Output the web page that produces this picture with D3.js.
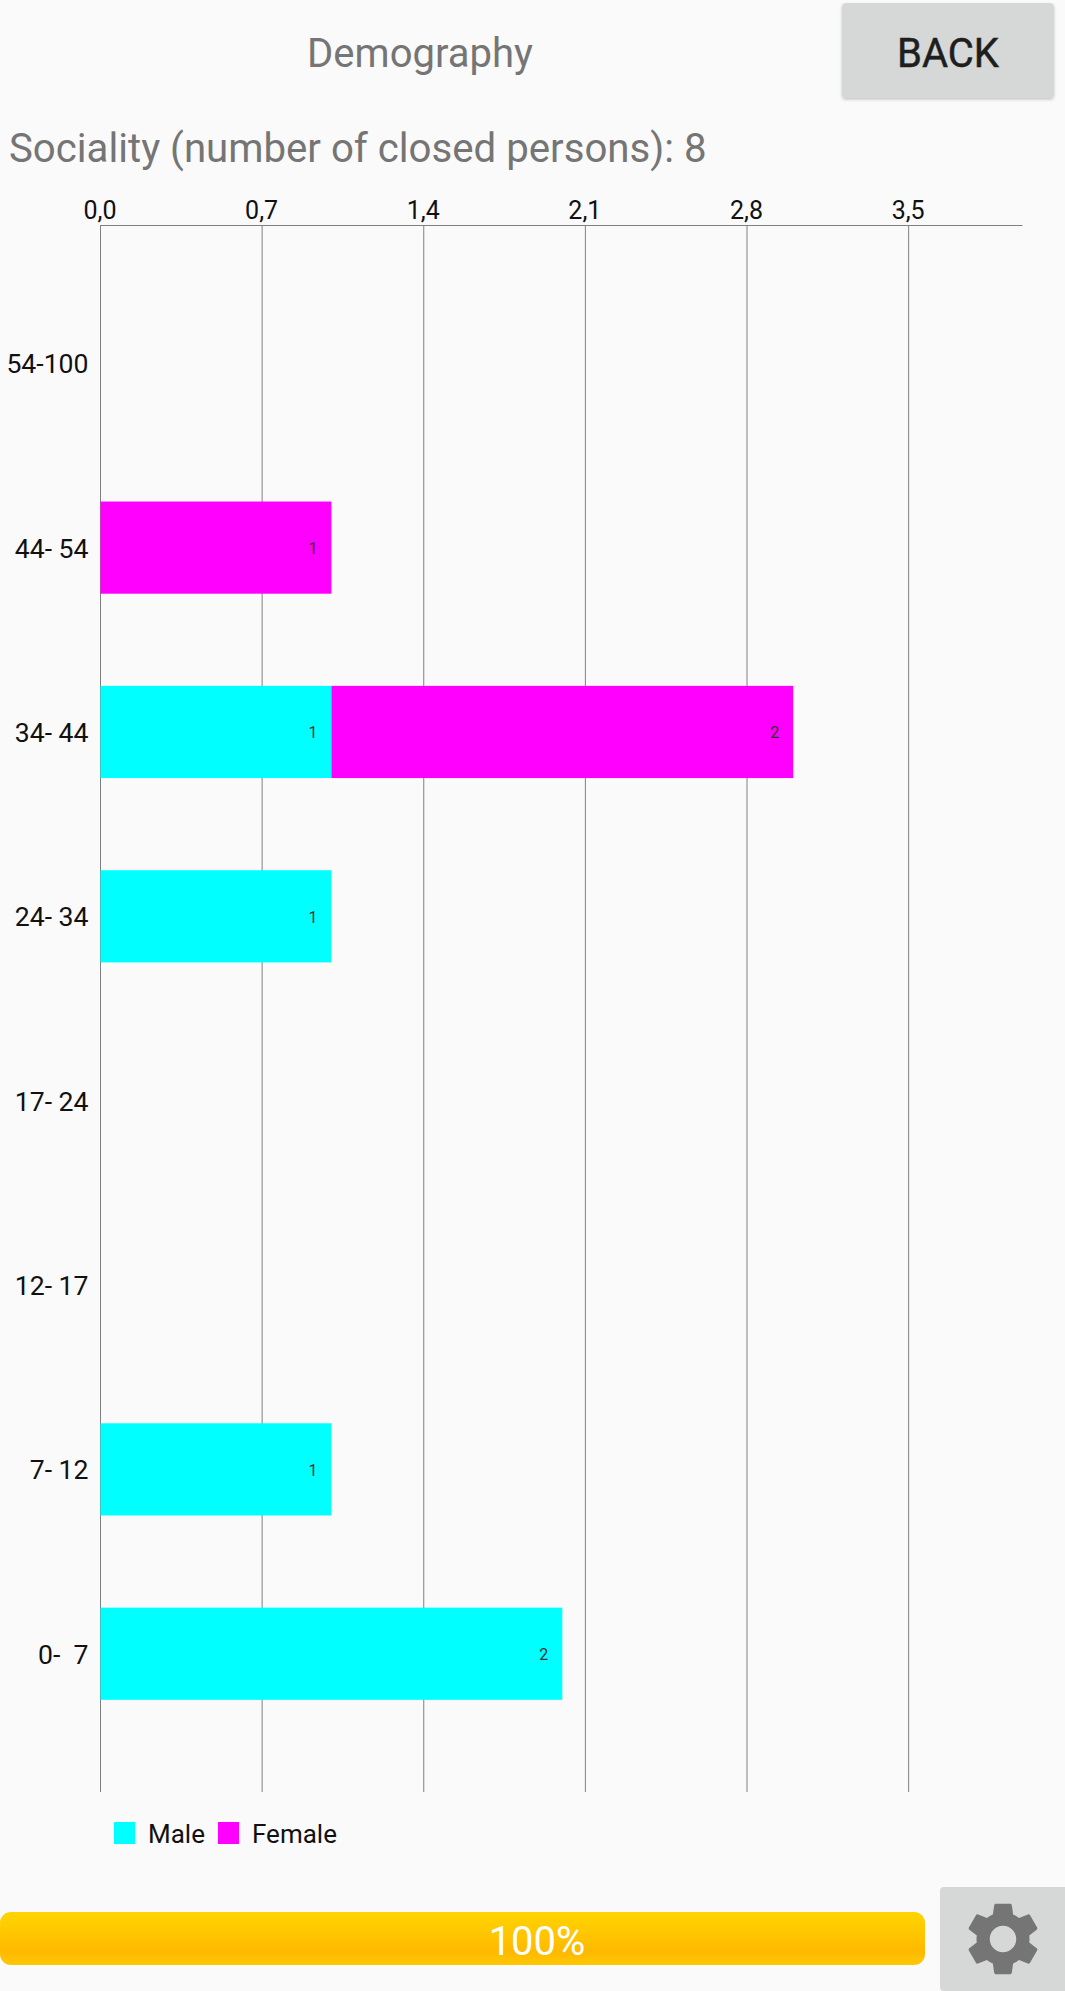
<!DOCTYPE html>
<html>
<head>
<meta charset="utf-8">
<script src="https://cdn.jsdelivr.net/npm/d3@7"></script>
<style>
html,body{margin:0;padding:0;background:#fafafa;overflow:hidden}
svg{display:block;font-family:Roboto,sans-serif}
</style>
</head>
<body>
<svg id="c" width="1065" height="1991"></svg>
<script>
const categories = ["54-100","44- 54","34- 44","24- 34","17- 24","12- 17","7- 12","0-  7"];
const maleValues = [0,0,1,1,0,0,1,2];
const femaleValues = [0,1,2,0,0,0,0,0];
const seriesNames = ["Male","Female"];
const seriesColors = ["#00ffff","#ff00ff"];
const xTicks = [0,0.7,1.4,2.1,2.8,3.5];
const pageTitle = "Demography";
const subtitle = "Sociality (number of closed persons): 8";
const backLabel = "BACK";
const progressLabel = "100%";
const gearPath = "M19.14,12.94c0.04-0.3,0.06-0.61,0.06-0.94c0-0.32-0.02-0.64-0.07-0.94l2.03-1.58c0.18-0.14,0.23-0.41,0.12-0.61l-1.92-3.32c-0.12-0.22-0.37-0.29-0.59-0.22l-2.39,0.96c-0.5-0.38-1.03-0.7-1.62-0.94L14.4,2.81c-0.04-0.24-0.24-0.41-0.48-0.41h-3.84c-0.24,0-0.43,0.17-0.47,0.41L9.25,5.35C8.66,5.59,8.12,5.92,7.63,6.29L5.24,5.33c-0.22-0.08-0.47,0-0.59,0.22L2.74,8.87C2.62,9.08,2.66,9.34,2.86,9.48l2.03,1.58C4.84,11.36,4.8,11.69,4.8,12s0.02,0.64,0.07,0.94l-2.03,1.58c-0.18,0.14-0.23,0.41-0.12,0.61l1.92,3.32c0.12,0.22,0.37,0.29,0.59,0.22l2.39-0.96c0.5,0.38,1.03,0.7,1.62,0.94l0.36,2.54c0.05,0.24,0.24,0.41,0.48,0.41h3.84c0.24,0,0.44-0.17,0.47-0.41l0.36-2.54c0.59-0.24,1.13-0.56,1.62-0.94l2.39,0.96c0.22,0.08,0.47,0,0.59-0.22l1.92-3.32c0.12-0.22,0.07-0.47-0.12-0.61L19.14,12.94z M12,15.6c-1.98,0-3.6-1.62-3.6-3.6s1.62-3.6,3.6-3.6s3.6,1.62,3.6,3.6S13.98,15.6,12,15.6z";

const svg = d3.select("#c");
const left = 100.5, top_ = 225, bottom = 1792, unit = 230.9;
const x = d3.scaleLinear().domain([0,(1022-left)/unit]).range([left,1022]);
const y = d3.scaleBand().domain(categories).range([top_,bottom]).paddingInner(0.5).paddingOuter(0.5);

// page header
svg.append("text").attr("x",420).attr("y",67).attr("text-anchor","middle").attr("font-size",40).attr("fill","#757575").text(pageTitle);
const btnShadow = svg.append("defs").append("filter").attr("id","sh").attr("x","-10%").attr("y","-10%").attr("width","120%").attr("height","125%");
btnShadow.append("feDropShadow").attr("dx",0).attr("dy",1.5).attr("stdDeviation",1.5).attr("flood-color","#000").attr("flood-opacity",0.22);
svg.append("rect").attr("x",842).attr("y",3).attr("width",212).attr("height",95).attr("rx",4).attr("fill","#d6d7d7").attr("filter","url(#sh)");
svg.append("text").attr("x",948).attr("y",67).attr("text-anchor","middle").attr("font-size",40).attr("fill","#1e1e1e").attr("stroke","#1e1e1e").attr("stroke-width",0.5).text(backLabel);
svg.append("text").attr("x",9).attr("y",162).attr("font-size",40.2).attr("fill","#757575").text(subtitle);

// grid lines
svg.append("g").selectAll("line").data(xTicks).join("line")
  .attr("x1",d=>x(d)).attr("x2",d=>x(d)).attr("y1",top_).attr("y2",bottom)
  .attr("stroke","#808080").attr("stroke-width",1);

// top axis
const axis = d3.axisTop(x).tickValues(xTicks).tickSize(0).tickPadding(6)
  .tickFormat(d=>d.toFixed(1).replace(".",","));
const ax = svg.append("g").attr("transform",`translate(-1,${top_})`).call(axis);
ax.select(".domain").attr("transform","translate(1,0)").attr("stroke","#808080").attr("stroke-width",1);
ax.selectAll("text").attr("font-size",25).attr("font-family","Roboto,sans-serif").attr("fill","#111");

// category labels
const ay = d3.axisLeft(y).tickSize(0).tickPadding(0);
const ag = svg.append("g").attr("transform","translate(88.5,1.5)").call(ay);
ag.select(".domain").remove();
ag.selectAll("text").attr("font-size",26.6).attr("font-family","Roboto,sans-serif").attr("fill","#111").style("white-space","pre").attr("xml:space","preserve");

// stacked bars
const rows = categories.map((c,i)=>({cat:c,Male:maleValues[i],Female:femaleValues[i]}));
const stacked = d3.stack().keys(seriesNames)(rows);
stacked.forEach((layer,si)=>{
  const g = svg.append("g");
  const live = layer.filter(d=>d[1]>d[0]);
  g.selectAll("rect").data(live).join("rect")
    .attr("x",d=>x(d[0])).attr("width",d=>x(d[1])-x(d[0]))
    .attr("y",d=>y(d.data.cat)).attr("height",y.bandwidth())
    .attr("fill",seriesColors[si]);
  g.selectAll("text").data(live).join("text")
    .attr("x",d=>x(d[1])-14).attr("y",d=>y(d.data.cat)+y.bandwidth()/2+6.5)
    .attr("text-anchor","end").attr("font-size",16).attr("fill","#333")
    .text(d=>d[1]-d[0]);
});

// legend
const legendX = [114,218], legendTextX = [148,252];
seriesNames.forEach((n,i)=>{
  svg.append("rect").attr("x",legendX[i]).attr("y",1822).attr("width",21).attr("height",22).attr("fill",seriesColors[i]);
  svg.append("text").attr("x",legendTextX[i]).attr("y",1843).attr("font-size",26).attr("fill","#111").text(n);
});

// progress bar
const grad = svg.select("defs").append("linearGradient").attr("id","pg").attr("x1",0).attr("x2",0).attr("y1",0).attr("y2",1);
[[0,"#ffd500"],[0.75,"#ffb900"],[1,"#ffc800"]].forEach(s=>grad.append("stop").attr("offset",s[0]).attr("stop-color",s[1]));
svg.append("rect").attr("x",0).attr("y",1912).attr("width",925).attr("height",53).attr("rx",11).attr("fill","url(#pg)");
svg.append("text").attr("x",537).attr("y",1955).attr("text-anchor","middle").attr("font-size",40).attr("fill","#fff").text(progressLabel);

// settings button
svg.append("rect").attr("x",940).attr("y",1887).attr("width",130).attr("height",104).attr("rx",4).attr("fill","#d6d7d7");
svg.append("path").attr("d",gearPath).attr("fill","#757575")
  .attr("transform","translate(1003,1939) scale(3.68) translate(-12,-12)");
</script>
</body>
</html>
